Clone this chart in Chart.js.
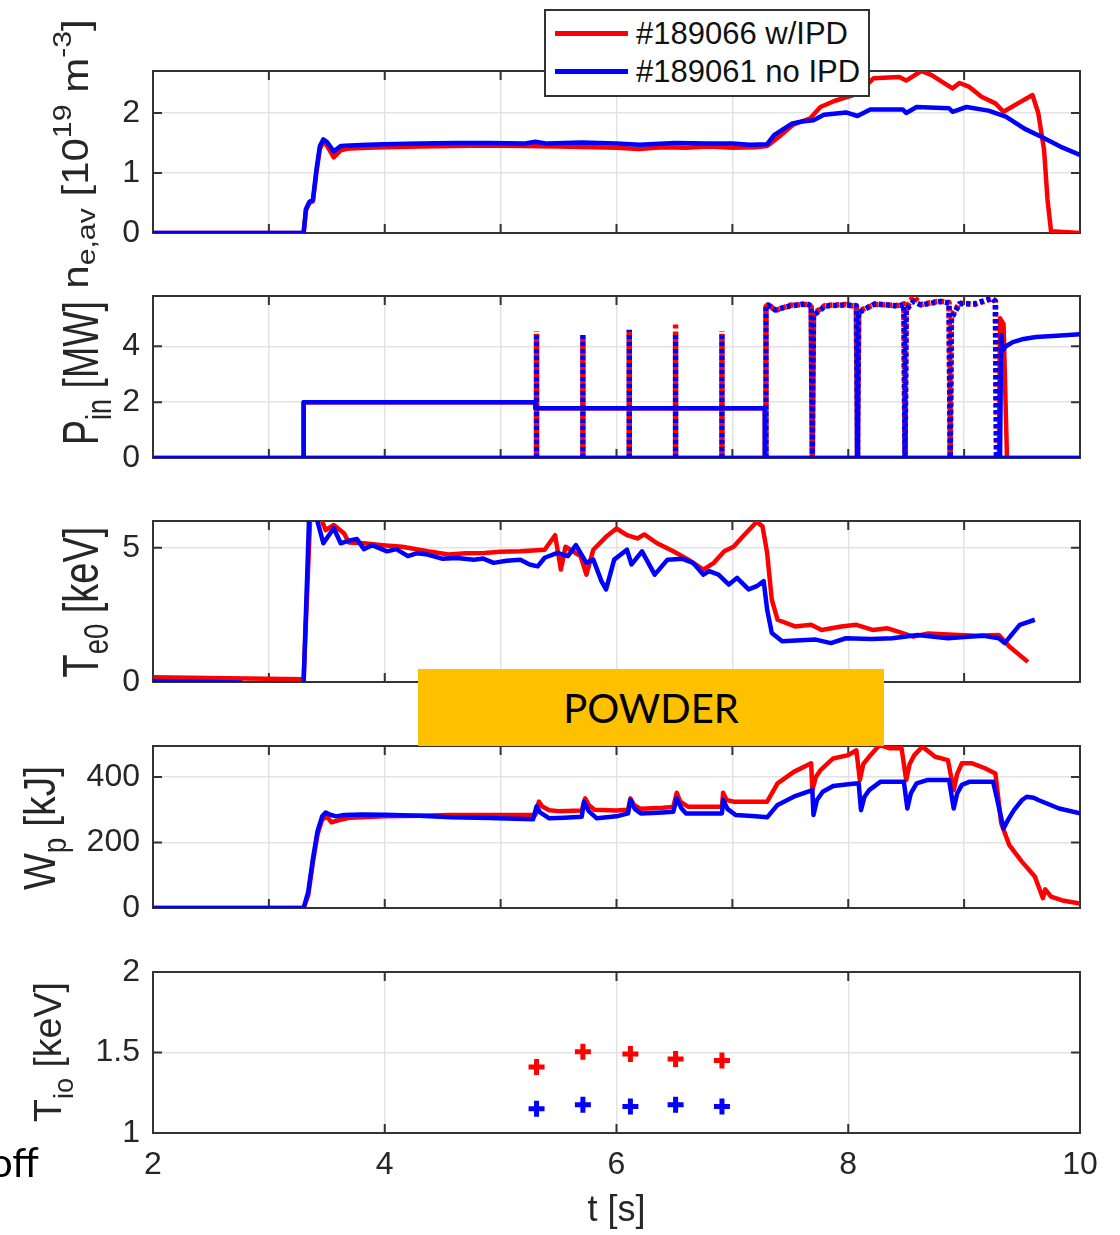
<!DOCTYPE html>
<html>
<head>
<meta charset="utf-8">
<script src="https://cdn.jsdelivr.net/npm/chart.js@4.4.0/dist/chart.umd.min.js"></script>
<style>
  body { margin: 0; background: #fff; }
  #wrap { position: relative; width: 1120px; height: 1235px; overflow: hidden; font-family: "Liberation Sans", Arial, sans-serif; }
  .panel { position: absolute; left: 0; width: 1120px; }
  .over { position: absolute; z-index: 5; }
  #legend { left: 544px; top: 9px; width: 322px; height: 84px; border: 2px solid #333; background: #fff; }
  .lline { height: 5px; width: 73px; left: 555px; }
  .ltext { left: 636px; font-size: 31px; line-height: 30px; color: #111; white-space: nowrap; }
  #powder { left: 418px; top: 669px; width: 466px; height: 77px; background: #ffc000; text-align: center;
            font-family: Lato, "Open Sans", sans-serif; font-size: 40px; line-height: 79px; color: #000; }
  #off { left: -10px; top: 1142px; font-family: Lato, "Open Sans", sans-serif; font-size: 40px; line-height: 40px; color: #000; }
</style>
</head>
<body>
<div id="wrap">
  <div id="legend" class="over"></div>
  <div class="over lline" style="top:31px;background:#ff0000"></div>
  <div class="over ltext" style="top:19px">#189066 w/IPD</div>
  <div class="over lline" style="top:69px;background:#0000ff"></div>
  <div class="over ltext" style="top:57px">#189061 no IPD</div>
  <div id="powder" class="over">POWDER</div>
  <div id="off" class="over">off</div>
</div>
<script>
// Shot comparison: #189066 (with impurity powder dropper) vs #189061 (no IPD)

const RED = '#ff0000';
const BLUE = '#0000ff';
const FONT = '"Liberation Sans", Arial, Helvetica, sans-serif';

// x axis (time, s)
const xTicksTop = [2, 3, 4, 5, 6, 7, 8, 9, 10];
const xTicksBottom = [2, 4, 6, 8, 10];

// line-averaged density [1e19 m^-3]
const neTicks = [0, 1, 2];
const neRedT = [2, 3.30, 3.32, 3.35, 3.38, 3.41, 3.44, 3.47, 3.50, 3.56, 3.62, 3.7, 3.85, 4.0, 4.3, 4.6, 4.9, 5.2, 5.5, 5.8, 6.0, 6.19, 6.4, 6.6, 6.8, 7.0, 7.2, 7.3, 7.4, 7.52, 7.67, 7.76, 7.88, 7.98, 8.08, 8.22, 8.44, 8.5, 8.63, 8.72, 8.81, 8.9, 8.96, 9.04, 9.15, 9.27, 9.34, 9.49, 9.59, 9.64, 9.69, 9.72, 9.75, 10];
const neRedV = [0, 0, 0.38, 0.5, 0.53, 1.0, 1.4, 1.52, 1.46, 1.26, 1.38, 1.41, 1.42, 1.43, 1.44, 1.45, 1.46, 1.45, 1.44, 1.43, 1.42, 1.40, 1.43, 1.42, 1.44, 1.42, 1.43, 1.45, 1.6, 1.8, 1.91, 2.1, 2.2, 2.26, 2.32, 2.58, 2.6, 2.54, 2.7, 2.63, 2.52, 2.41, 2.5, 2.44, 2.27, 2.16, 2.02, 2.19, 2.3, 2.0, 1.38, 0.55, 0.03, 0.0];
const neBlueT = [2, 3.30, 3.32, 3.35, 3.38, 3.41, 3.44, 3.47, 3.50, 3.56, 3.62, 3.7, 3.85, 4.0, 4.3, 4.6, 4.9, 5.2, 5.3, 5.4, 5.7, 6.0, 6.2, 6.5, 6.8, 7.0, 7.15, 7.3, 7.36, 7.51, 7.6, 7.7, 7.79, 7.98, 8.08, 8.19, 8.47, 8.5, 8.59, 8.87, 8.9, 9.02, 9.21, 9.36, 9.52, 9.67, 9.83, 10];
const neBlueV = [0, 0, 0.4, 0.52, 0.55, 1.05, 1.45, 1.56, 1.52, 1.36, 1.45, 1.46, 1.47, 1.48, 1.49, 1.5, 1.5, 1.49, 1.52, 1.49, 1.51, 1.49, 1.47, 1.5, 1.49, 1.49, 1.47, 1.48, 1.63, 1.82, 1.86, 1.88, 1.97, 2.01, 1.95, 2.06, 2.06, 2.0, 2.1, 2.08, 2.02, 2.1, 2.04, 1.94, 1.74, 1.6, 1.44, 1.3];

// input power [MW]: steady part (solid) and modulated beams (dotted); null = gap
const pinTicks = [0, 2, 4];
const pinRedBaseT = [2, 10, 10, 3.30, 3.30, 5.30, 5.30, 7.28, 7.28, 7.28, 9.30, 9.31, 9.34, 9.37];
const pinRedBaseV = [0, 0, null, 0, 2.0, 2.0, 1.78, 1.78, 0, null, 0, 5.0, 4.8, 0];
const pinBlueBaseT = [2, 10, 10, 3.30, 3.30, 5.30, 5.30, 7.28, 7.28, 7.28, 9.31, 9.32, 9.33, 9.36, 9.42, 9.50, 9.62, 9.80, 10];
const pinBlueBaseV = [0, 0, null, 0, 2.0, 2.0, 1.78, 1.78, 0, null, 0, 4.4, 3.85, 4.0, 4.15, 4.25, 4.33, 4.38, 4.43];
const pinModT = [5.31, 5.31, 5.31, 5.71, 5.71, 5.71, 6.11, 6.11, 6.11, 6.51, 6.51, 6.51, 6.91, 6.91, 6.91,
  7.29, 7.29, 7.31, 7.37, 7.50, 7.64, 7.68, 7.69, 7.70, 7.74, 7.80, 7.97, 8.07, 8.08, 8.09, 8.13, 8.23, 8.43, 8.48, 8.49, 8.50, 8.56, 8.63, 8.79, 8.87, 8.88, 8.89, 8.96, 9.09, 9.24, 9.27, 9.28];
const pinRedModV = [0, 4.45, null, 0, 4.35, null, 0, 4.55, null, 0, 4.89, null, 0, 4.45, null,
  0, 5.42, 5.5, 5.28, 5.47, 5.5, 5.42, 0, 5.15, 5.28, 5.46, 5.5, 5.42, 0, 5.25, 5.33, 5.5, 5.46, 5.52, 0, 5.35, 5.78, 5.5, 5.62, 5.57, 0, 5.05, 5.55, 5.5, 5.7, 5.62, 0];
const pinBlueModV = [0, 4.53, null, 0, 4.41, null, 0, 4.59, null, 0, 4.41, null, 0, 4.53, null,
  0, 5.45, 5.48, 5.3, 5.45, 5.52, 5.45, 0, 5.1, 5.24, 5.44, 5.48, 5.45, 0, 5.2, 5.3, 5.52, 5.44, 5.5, 0, 5.3, 5.6, 5.48, 5.6, 5.55, 0, 5.0, 5.52, 5.52, 5.72, 5.6, 0];

// central electron temperature [keV]
const teTicks = [0, 5];
const teRedT = [2, 3.30, 3.36, 3.44, 3.49, 3.56, 3.65, 3.69, 3.82, 3.98, 4.15, 4.37, 4.55, 4.7, 4.86, 5.0, 5.17, 5.28, 5.38, 5.47, 5.52, 5.56, 5.69, 5.74, 5.80, 5.91, 6.0, 6.09, 6.18, 6.24, 6.35, 6.49, 6.62, 6.75, 6.84, 6.93, 7.01, 7.10, 7.21, 7.26, 7.30, 7.34, 7.39, 7.54, 7.68, 7.77, 7.94, 8.07, 8.21, 8.34, 8.45, 8.56, 8.69, 8.95, 9.1, 9.30, 9.39, 9.55];
const teRedV = [0.18, 0.1, 6.5, 6.2, 5.66, 5.85, 5.53, 5.2, 5.17, 5.1, 5.04, 4.87, 4.75, 4.8, 4.81, 4.85, 4.87, 4.9, 4.93, 5.47, 4.19, 5.04, 4.69, 4.0, 4.93, 5.41, 5.72, 5.47, 5.35, 5.5, 5.17, 4.87, 4.56, 4.19, 4.44, 4.87, 5.04, 5.47, 5.97, 5.8, 4.81, 3.07, 2.32, 2.07, 2.13, 1.94, 2.07, 2.13, 1.94, 2.0, 1.85, 1.69, 1.81, 1.75, 1.72, 1.75, 1.32, 0.75];
const teBlueT = [2, 2.77, 2.77, 3.30, 3.35, 3.40, 3.47, 3.56, 3.62, 3.69, 3.76, 3.82, 3.89, 4.02, 4.10, 4.20, 4.28, 4.37, 4.50, 4.62, 4.77, 4.85, 4.94, 5.05, 5.17, 5.25, 5.32, 5.38, 5.49, 5.58, 5.65, 5.74, 5.80, 5.87, 5.91, 5.98, 6.09, 6.13, 6.22, 6.33, 6.44, 6.57, 6.66, 6.75, 6.80, 6.88, 6.97, 7.04, 7.14, 7.21, 7.27, 7.30, 7.34, 7.43, 7.55, 7.72, 7.85, 7.98, 8.2, 8.38, 8.6, 8.86, 9.0, 9.17, 9.30, 9.35, 9.48, 9.61];
const teBlueV = [0.04, -0.02, null, 0, 6.5, 6.3, 5.17, 5.73, 5.17, 5.27, 5.33, 4.95, 5.1, 4.87, 4.95, 4.69, 4.8, 4.75, 4.59, 4.62, 4.56, 4.6, 4.44, 4.52, 4.56, 4.38, 4.31, 4.63, 4.81, 4.69, 5.1, 4.44, 4.56, 3.76, 3.45, 4.56, 4.93, 4.38, 4.87, 4.0, 4.56, 4.59, 4.44, 4.0, 4.13, 4.0, 3.63, 3.88, 3.45, 3.57, 3.76, 2.7, 1.83, 1.52, 1.55, 1.58, 1.45, 1.63, 1.6, 1.63, 1.75, 1.63, 1.68, 1.72, 1.63, 1.45, 2.13, 2.32];

// stored energy [kJ]
const wpTicks = [0, 200, 400];
const wpRedT = [2, 3.30, 3.34, 3.38, 3.42, 3.46, 3.50, 3.54, 3.6, 3.7, 4.0, 4.3, 4.56, 4.9, 5.30, 5.33, 5.36, 5.42, 5.5, 5.70, 5.73, 5.76, 5.81, 6.0, 6.10, 6.12, 6.15, 6.21, 6.4, 6.49, 6.52, 6.55, 6.62, 6.8, 6.91, 6.92, 6.95, 7.01, 7.2, 7.30, 7.39, 7.53, 7.68, 7.69, 7.72, 7.76, 7.87, 8.0, 8.07, 8.10, 8.13, 8.18, 8.27, 8.36, 8.46, 8.50, 8.53, 8.57, 8.64, 8.75, 8.86, 8.91, 8.94, 8.98, 9.07, 9.18, 9.27, 9.32, 9.39, 9.50, 9.61, 9.68, 9.70, 9.75, 9.86, 10];
const wpRedV = [0, 0, 40, 140, 225, 270, 280, 262, 268, 276, 280, 282, 284, 284, 284, 325, 310, 299, 296, 298, 335, 315, 300, 298, 300, 335, 315, 303, 306, 309, 352, 325, 309, 309, 309, 352, 330, 325, 325, 325, 381, 416, 442, 360, 400, 421, 457, 467, 482, 391, 440, 462, 498, 488, 488, 391, 440, 467, 493, 462, 452, 360, 410, 442, 442, 427, 411, 259, 192, 141, 96, 30, 57, 35, 22, 14];
const wpBlueT = [2, 3.30, 3.34, 3.38, 3.42, 3.46, 3.49, 3.53, 3.58, 3.65, 3.8, 4.0, 4.3, 4.57, 4.9, 5.28, 5.31, 5.34, 5.42, 5.55, 5.70, 5.72, 5.76, 5.83, 6.0, 6.10, 6.12, 6.16, 6.21, 6.4, 6.49, 6.52, 6.56, 6.60, 6.8, 6.91, 6.92, 6.96, 7.03, 7.2, 7.30, 7.39, 7.53, 7.69, 7.70, 7.73, 7.78, 7.87, 8.0, 8.09, 8.11, 8.14, 8.18, 8.28, 8.48, 8.51, 8.54, 8.59, 8.68, 8.87, 8.91, 8.94, 8.98, 9.05, 9.25, 9.28, 9.34, 9.38, 9.43, 9.5, 9.54, 9.6, 9.64, 9.82, 10];
const wpBlueV = [0, 0, 50, 150, 235, 280, 292, 285, 280, 284, 286, 285, 282, 277, 275, 271, 311, 292, 274, 276, 279, 325, 296, 274, 280, 289, 330, 302, 289, 292, 294, 335, 305, 289, 289, 289, 330, 302, 284, 280, 277, 315, 340, 360, 284, 330, 355, 373, 378, 381, 299, 340, 360, 386, 386, 304, 350, 381, 391, 391, 304, 350, 376, 386, 386, 340, 243, 270, 299, 330, 340, 337, 330, 304, 289];

// central ion temperature [keV] (CER points)
const tiTicks = [1, 1.5, 2];
const tiT = [5.31, 5.71, 6.12, 6.51, 6.91];
const tiRedV = [1.41, 1.505, 1.49, 1.46, 1.45];
const tiBlueV = [1.15, 1.175, 1.165, 1.175, 1.165];

function pts(T, V) {
    return T.map((t, i) => ({ x: t, y: V[i] }));
}

function solid(T, V, color, order) {
    return { data: pts(T, V), borderColor: color, borderWidth: 4.5, pointRadius: 0, order: order };
}

function dotted(T, V, color, order, offset) {
    return { data: pts(T, V), borderColor: color, borderWidth: 5.5, pointRadius: 0, order: order,
             borderDash: [4, 3], borderDashOffset: offset, borderCapStyle: 'butt' };
}

function marks(T, V, color) {
    return { data: pts(T, V), showLine: false, pointStyle: 'cross', pointRadius: 8,
             pointBorderWidth: 5, pointBorderColor: color, borderColor: color, pointHoverRadius: 8 };
}

// rotated y-axis label with sub/superscripts
function drawYLabel(ctx, lab) {
    ctx.save();
    ctx.translate(lab.x, lab.cy);
    ctx.rotate(-Math.PI / 2);
    ctx.scale(1, lab.h);
    ctx.fillStyle = '#262626';
    ctx.textBaseline = 'alphabetic';
    let total = 0;
    const items = lab.parts.map(p => {
        const size = p.s ? lab.size * 0.72 : lab.size;
        ctx.font = size + 'px ' + FONT;
        const w = ctx.measureText(p.t).width;
        total += w;
        return { p, size, w };
    });
    let x = -total / 2;
    items.forEach(it => {
        ctx.font = it.size + 'px ' + FONT;
        let dy = 0;
        if (it.p.s === 'sub') dy = lab.sub / lab.h;
        if (it.p.s === 'sup') dy = -lab.sup / lab.h;
        ctx.fillText(it.p.t, x, dy);
        x += it.w;
    });
    ctx.restore();
}

const boxPlugin = {
    id: 'matlabBox',
    beforeDatasetsDraw(chart) {
        const { ctx, chartArea: a } = chart;
        const xs = chart.scales.x, ys = chart.scales.y;
        const L = 9;
        ctx.save();
        ctx.strokeStyle = '#333';
        ctx.lineWidth = 2;
        ctx.beginPath();
        ys.ticks.forEach(tk => {
            const py = ys.getPixelForValue(tk.value);
            ctx.moveTo(a.left, py); ctx.lineTo(a.left + L, py);
            ctx.moveTo(a.right, py); ctx.lineTo(a.right - L, py);
        });
        xs.ticks.forEach(tk => {
            const px = xs.getPixelForValue(tk.value);
            ctx.moveTo(px, a.bottom); ctx.lineTo(px, a.bottom - L);
            ctx.moveTo(px, a.top); ctx.lineTo(px, a.top + L);
        });
        ctx.stroke();
        ctx.strokeRect(a.left, a.top, a.right - a.left, a.bottom - a.top);
        ctx.restore();
    },
    afterDraw(chart, args, opts) {
        if (opts.label) drawYLabel(chart.ctx, opts.label);
    }
};

const wrap = document.getElementById('wrap');

function makePanel(cfg) {
    const padTop = cfg.top === 71 ? 71 : 60;
    const canvasTop = cfg.top - padTop;
    const canvasH = (cfg.last ? 1235 : cfg.bottom + 60) - canvasTop;
    const div = document.createElement('div');
    div.className = 'panel';
    div.style.top = canvasTop + 'px';
    div.style.height = canvasH + 'px';
    const cv = document.createElement('canvas');
    cv.width = 1120;
    cv.height = canvasH;
    div.appendChild(cv);
    wrap.appendChild(div);

    const grid = { color: '#e3e3e3', lineWidth: 1.5, drawTicks: false };
    const label = Object.assign({}, cfg.label, { cy: cfg.label.cy - canvasTop });

    return new Chart(cv, {
        type: 'line',
        data: { datasets: cfg.datasets },
        options: {
            responsive: false,
            animation: false,
            devicePixelRatio: 1,
            layout: { padding: { top: padTop, bottom: cfg.last ? 0 : 60, left: 0, right: 40 } },
            plugins: { legend: { display: false }, tooltip: { enabled: false }, matlabBox: { label: label } },
            elements: { line: { tension: 0, borderJoinStyle: 'round' } },
            scales: {
                x: {
                    type: 'linear', min: 2, max: 10,
                    afterBuildTicks: s => { s.ticks = cfg.xTicks.map(v => ({ value: v })); },
                    afterFit: s => { s.height = cfg.last ? 102 : 0; },
                    grid: grid,
                    border: { display: false },
                    ticks: { display: !!cfg.last, font: { family: FONT, size: 32 }, color: '#262626', padding: 13, maxRotation: 0,
                             callback: v => String(v) },
                    title: cfg.last
                        ? { display: true, text: 't [s]', font: { family: FONT, size: 36 }, color: '#262626', padding: { top: 0, bottom: 2 } }
                        : { display: false }
                },
                y: {
                    type: 'linear', min: cfg.ymin, max: cfg.ymax,
                    afterBuildTicks: s => { s.ticks = cfg.yTicks.map(v => ({ value: v })); },
                    afterFit: s => { s.width = 153; },
                    grid: grid,
                    border: { display: false },
                    ticks: { font: { family: FONT, size: 32 }, color: '#262626', padding: 13, callback: v => String(v) }
                }
            }
        },
        plugins: [boxPlugin]
    });
}

makePanel({
    top: 71, bottom: 233, ymin: 0, ymax: 2.7, yTicks: neTicks, xTicks: xTicksTop,
    label: { parts: [{ t: 'n' }, { t: 'e,av', s: 'sub' }, { t: ' [10' }, { t: '19', s: 'sup' }, { t: ' m' }, { t: '-3', s: 'sup' }, { t: ']' }],
             x: 88, cy: 154, size: 42, h: 0.86, sub: 7, sup: 17 },
    datasets: [solid(neBlueT, neBlueV, BLUE, 0), solid(neRedT, neRedV, RED, 1)]
});

makePanel({
    top: 296, bottom: 458, ymin: 0, ymax: 5.8, yTicks: pinTicks, xTicks: xTicksTop,
    label: { parts: [{ t: 'P' }, { t: 'in', s: 'sub' }, { t: ' [MW]' }], x: 98, cy: 373, size: 37.5, h: 1.31, sub: 13 },
    datasets: [
        solid(pinBlueBaseT, pinBlueBaseV, BLUE, 0),
        dotted(pinModT, pinBlueModV, BLUE, 1, 0),
        solid(pinRedBaseT, pinRedBaseV, RED, 2),
        dotted(pinModT, pinRedModV, RED, 3, 3.5)
    ]
});

makePanel({
    top: 521, bottom: 682, ymin: 0, ymax: 6, yTicks: teTicks, xTicks: xTicksTop,
    label: { parts: [{ t: 'T' }, { t: 'e0', s: 'sub' }, { t: ' [keV]' }], x: 98, cy: 602, size: 38, h: 1.29, sub: 10 },
    datasets: [solid(teBlueT, teBlueV, BLUE, 0), solid(teRedT, teRedV, RED, 1)]
});

makePanel({
    top: 746, bottom: 908, ymin: 0, ymax: 495, yTicks: wpTicks, xTicks: xTicksTop,
    label: { parts: [{ t: 'W' }, { t: 'p', s: 'sub' }, { t: ' [kJ]' }], x: 55, cy: 828, size: 39, h: 1.15, sub: 11 },
    datasets: [solid(wpBlueT, wpBlueV, BLUE, 0), solid(wpRedT, wpRedV, RED, 1)]
});

makePanel({
    top: 972, bottom: 1133, ymin: 1, ymax: 2, yTicks: tiTicks, xTicks: xTicksBottom, last: true,
    label: { parts: [{ t: 'T' }, { t: 'io', s: 'sub' }, { t: ' [keV]' }], x: 61, cy: 1052, size: 37.5, h: 1.05, sub: 12 },
    datasets: [marks(tiT, tiRedV, RED), marks(tiT, tiBlueV, BLUE)]
});
</script>
</body>
</html>
